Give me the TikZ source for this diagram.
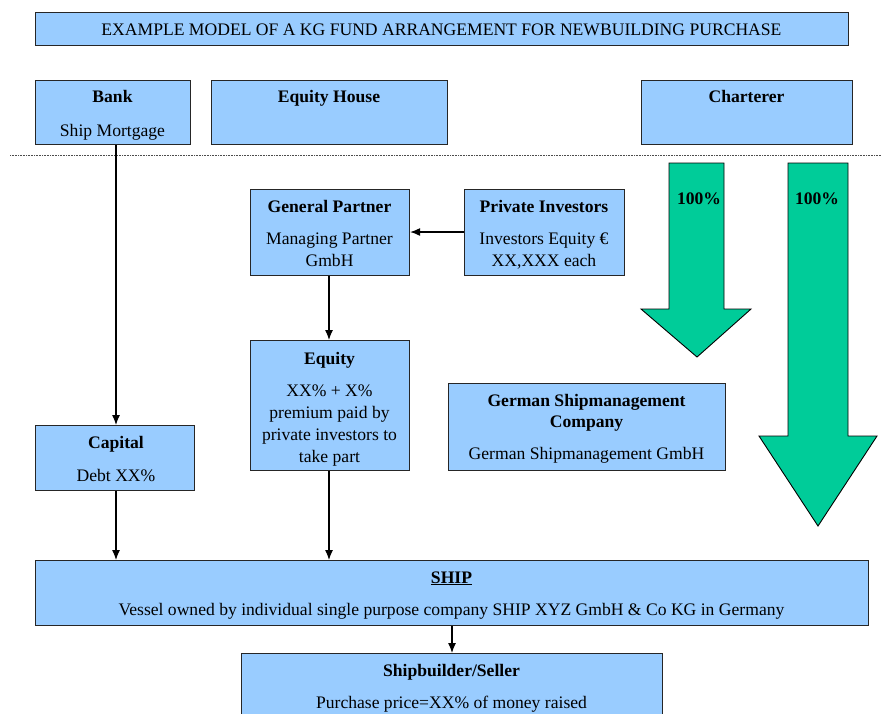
\documentclass[tikz,border=0pt]{standalone}
\usepackage{fontspec}
\setmainfont{Liberation Serif}
\usetikzlibrary{arrows.meta}
\definecolor{boxblue}{HTML}{99CCFF}
\definecolor{arrgreen}{HTML}{00CC99}
\begin{document}
\begin{tikzpicture}[x=1pt,y=-1pt,
  box/.style={draw=black!85, line width=1.1pt, fill=boxblue, inner sep=0pt, anchor=north west},
  txt/.style={inner sep=0pt, anchor=base, font=\fontsize{17.6}{22}\selectfont},
  btxt/.style={txt, font=\fontsize{17.6}{22}\selectfont\bfseries},
  conn/.style={line width=1.2pt, -{Latex[length=10pt,width=8pt]}},
  bigarrow/.style={draw=black, line width=0.9pt, fill=arrgreen, line join=miter}]
\useasboundingbox (0,0) rectangle (882,713);
\clip (0,0) rectangle (882,713);
% title
\node[box, minimum width=813pt, minimum height=33pt] (title) at (35,12) {};
\node[txt] (titlet) at (441.5,35) {EXAMPLE MODEL OF A KG FUND ARRANGEMENT FOR NEWBUILDING PURCHASE};
% top row
\node[box, minimum width=155pt, minimum height=64pt] (bank) at (35,80) {};
\node[btxt] (bankt) at (112.5,102) {Bank};
\node[txt] (bankl) at (112.5,136) {Ship Mortgage};
\node[box, minimum width=236pt, minimum height=64pt] (equityhouse) at (211,80) {};
\node[btxt] (equityhouset) at (329,102) {Equity House};
\node[box, minimum width=211pt, minimum height=64pt] (charterer) at (641,80) {};
\node[btxt] (lessort) at (746.5,102) {Charterer};
% dotted separator
\coordinate (dl) at (10,155);
\coordinate (dr) at (882,155);
\draw[black!70, line width=0.6pt, dash pattern=on 0.8pt off 0.8pt] (dl) -- (dr);
% general partner
\node[box, minimum width=159pt, minimum height=86pt] (gp) at (250,189) {};
\node[btxt] (gpt) at (329.5,212) {General Partner};
\node[txt] (gpl1) at (329.5,244) {Managing Partner};
\node[txt] (gpl2) at (329.5,266) {GmbH};
% private investors
\node[box, minimum width=160pt, minimum height=86pt] (pi) at (464,189) {};
\node[btxt] (pit) at (544,212) {Private Investors};
\node[txt] (pil1) at (544,244) {Investors Equity €};
\node[txt] (pil2) at (544,266) {XX,XXX each};
% equity
\node[box, minimum width=159pt, minimum height=130pt] (eq) at (250,340) {};
\node[btxt] (eqt) at (329.5,364) {Equity};
\node[txt] (eql1) at (329.5,396) {XX\% + X\%};
\node[txt] (eql2) at (329.5,418) {premium paid by};
\node[txt] (eql3) at (329.5,440) {private investors to};
\node[txt] (eql4) at (329.5,462) {take part};
% capital
\node[box, minimum width=159pt, minimum height=65pt] (cap) at (35,425) {};
\node[btxt] (capt) at (116,448) {Capital};
\node[txt] (capl) at (116,481) {Debt XX\%};
% german shipmanagement
\node[box, minimum width=277pt, minimum height=87pt] (gsm) at (448,383) {};
\node[btxt] (gsmt1) at (586.5,406) {German Shipmanagement};
\node[btxt] (gsmt2) at (586.5,427) {Company};
\node[txt] (gsml) at (586.5,459) {German Shipmanagement GmbH};
% ship
\node[box, minimum width=833pt, minimum height=65pt] (ship) at (35,560) {};
\node[btxt] (shipt) at (451.5,583) {\underline{SHIP}};
\node[txt] (shipl) at (451.5,615) {Vessel owned by individual single purpose company SHIP XYZ GmbH \& Co KG in Germany};
% shipbuilder
\node[box, minimum width=421pt, minimum height=80pt] (sb) at (241,653) {};
\node[btxt] (sbt) at (451.5,676) {Shipbuilder/Seller};
\node[txt] (sbl) at (451.5,708) {Purchase price=XX\% of money raised};
% connectors
\draw[conn] (pi.west |- 0,232) -- (gp.east |- 0,232);
\draw[conn] (gp.south -| 329,0) -- (eq.north -| 329,0);
\draw[conn] (bank.south -| 116,0) -- (cap.north -| 116,0);
\draw[conn] (cap.south -| 116,0) -- (ship.north -| 116,0);
\draw[conn] (eq.south -| 329,0) -- (ship.north -| 329,0);
\draw[conn] (ship.south -| 452,0) -- (sb.north -| 452,0);
% big green arrows
\draw[bigarrow] (669,163) -- (724,163) -- (724,309) -- (751,309) -- (697,357) -- (641,309) -- (669,309) -- cycle;
\node[btxt] (p1) at (699,204) {100\%};
\draw[bigarrow] (788,163) -- (848,163) -- (848,436) -- (877,436) -- (818,526) -- (759,436) -- (788,436) -- cycle;
\node[btxt] (p2) at (817,204) {100\%};
\end{tikzpicture}
\end{document}
